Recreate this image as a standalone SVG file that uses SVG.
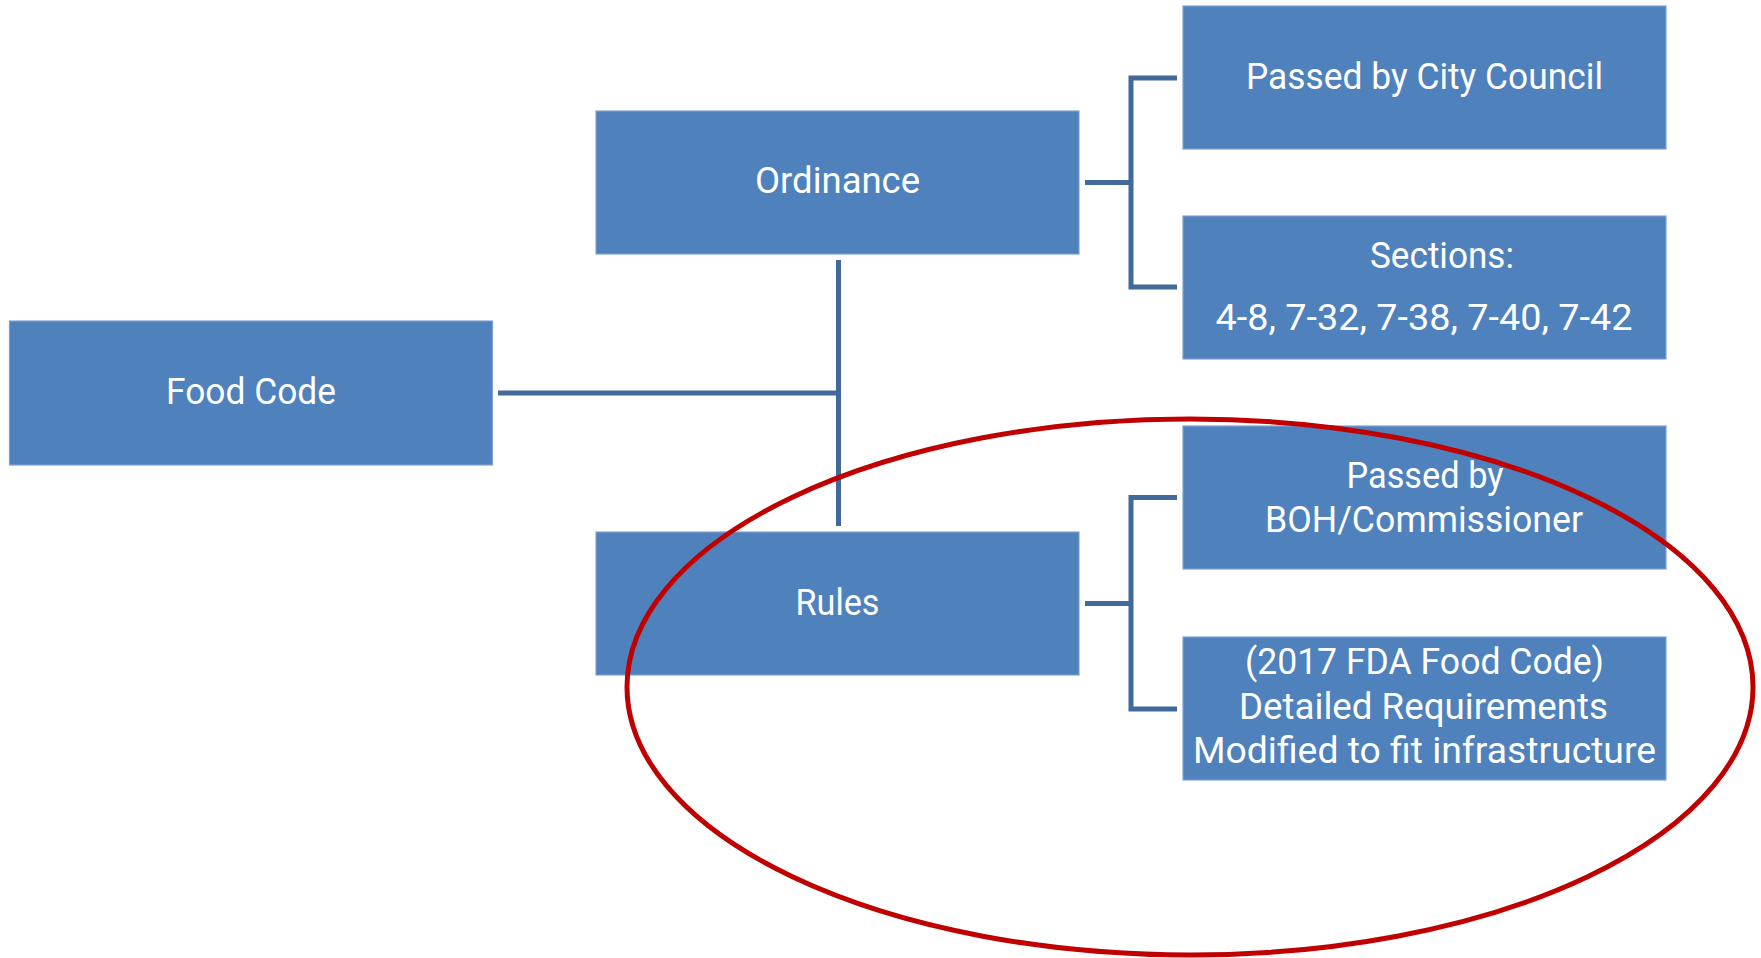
<svg xmlns="http://www.w3.org/2000/svg" width="1761" height="958" viewBox="0 0 1761 958">
<style>
.box{fill:#4F81BD;stroke:#7EA2D0;stroke-width:1.2}
.t{font-family:Roboto,"Open Sans","Liberation Sans",sans-serif;font-size:37px;fill:#FFFFFF;text-anchor:middle}
.c{fill:none;stroke:#41699A;stroke-width:5;stroke-linecap:butt}
</style>
<rect width="1761" height="958" fill="#FFFFFF"/>
<g id="connectors">
<path class="c" d="M498 393 H838.5 M838.5 260 V526"/>
<path class="c" d="M1085 182.5 H1131 M1177 78 H1131 V287 H1177"/>
<path class="c" d="M1085 603.5 H1131 M1177 497.5 H1131 V709 H1177"/>
</g>
<g id="food-code">
<rect class="box" x="9.5" y="321" width="483" height="144"/>
<text class="t" x="251" y="404" textLength="170" lengthAdjust="spacingAndGlyphs">Food Code</text>
</g>
<g id="ordinance">
<rect class="box" x="596" y="111" width="483" height="143"/>
<text class="t" x="837.5" y="193" textLength="165" lengthAdjust="spacingAndGlyphs">Ordinance</text>
</g>
<g id="rules">
<rect class="box" x="596" y="532" width="483" height="143"/>
<text class="t" x="837.5" y="615" textLength="84" lengthAdjust="spacingAndGlyphs">Rules</text>
</g>
<g id="city-council">
<rect class="box" x="1183" y="6" width="483" height="143"/>
<text class="t" x="1424.5" y="89" textLength="357" lengthAdjust="spacingAndGlyphs">Passed by City Council</text>
</g>
<g id="sections">
<rect class="box" x="1183" y="216" width="483" height="143"/>
<text class="t" x="1442" y="268" textLength="144" lengthAdjust="spacingAndGlyphs">Sections:</text>
<text class="t" x="1424" y="330" textLength="417" lengthAdjust="spacingAndGlyphs">4-8, 7-32, 7-38, 7-40, 7-42</text>
</g>
<g id="boh">
<rect class="box" x="1183" y="426" width="483" height="143"/>
<text class="t" x="1425" y="488" textLength="157" lengthAdjust="spacingAndGlyphs">Passed by</text>
<text class="t" x="1424" y="532" textLength="318" lengthAdjust="spacingAndGlyphs">BOH/Commissioner</text>
</g>
<g id="fda">
<rect class="box" x="1183" y="637" width="483" height="143"/>
<text class="t" x="1424.5" y="674" textLength="359" lengthAdjust="spacingAndGlyphs">(2017 FDA Food Code)</text>
<text class="t" x="1423.5" y="719" textLength="369" lengthAdjust="spacingAndGlyphs">Detailed Requirements</text>
<text class="t" x="1424.5" y="763" textLength="463" lengthAdjust="spacingAndGlyphs">Modified to fit infrastructure</text>
</g>
<ellipse id="highlight" cx="1190" cy="687" rx="563" ry="268" fill="none" stroke="#C00000" stroke-width="5"/>
</svg>
